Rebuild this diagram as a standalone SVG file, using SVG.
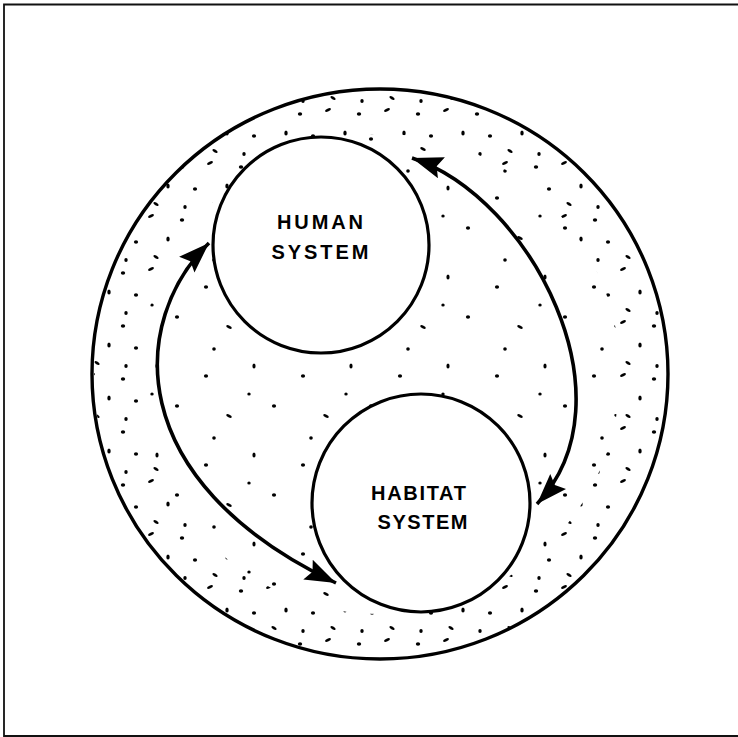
<svg xmlns="http://www.w3.org/2000/svg" width="738" height="737" viewBox="0 0 738 737">
<style>
.ring{fill:none;stroke:#000;stroke-width:3.4}
.node{fill:#fff;stroke:#000;stroke-width:3.2}
.conn{fill:none;stroke:#000;stroke-width:3.6}
.lbl{font-family:"Liberation Sans",Arial,sans-serif;font-weight:bold;font-size:20px;fill:#000;text-anchor:middle}
.d{fill:#000}
</style>
<defs>
<marker id="ah" markerUnits="userSpaceOnUse" markerWidth="40" markerHeight="30" refX="31" refY="11" orient="auto-start-reverse" viewBox="0 0 40 30">
<path d="M31,11 L0,0 L5,11 L0,22 z" fill="#000"/>
</marker>
<pattern id="p1" patternUnits="userSpaceOnUse" width="59" height="53">
<ellipse class="d" cx="5" cy="8" rx="2.2" ry="1.7"/>
<ellipse class="d" cx="33" cy="4" rx="3.2" ry="1.4" transform="rotate(-25 33 4)"/>
<ellipse class="d" cx="50" cy="27" rx="1.7" ry="2.6"/>
<ellipse class="d" cx="18" cy="30" rx="2.1" ry="1.7"/>
<ellipse class="d" cx="38" cy="45" rx="2.9" ry="1.4" transform="rotate(30 38 45)"/>
<ellipse class="d" cx="8" cy="48" rx="1.7" ry="2.1"/>
</pattern>
<pattern id="p3" patternUnits="userSpaceOnUse" width="97" height="89">
<ellipse class="d" cx="12" cy="20" rx="2.1" ry="1.7"/>
<ellipse class="d" cx="60" cy="10" rx="1.6" ry="2.6"/>
<ellipse class="d" cx="80" cy="50" rx="2.1" ry="1.7"/>
<ellipse class="d" cx="35" cy="60" rx="3" ry="1.4" transform="rotate(25 35 60)"/>
<ellipse class="d" cx="20" cy="82" rx="1.8" ry="1.8"/>
<ellipse class="d" cx="55" cy="38" rx="1.7" ry="1.5"/>
</pattern>
</defs>
<rect width="738" height="737" fill="#fff"/>
<path d="M738,4.5 H4 V736 H738" fill="none" stroke="#111" stroke-width="1.8"/>
<g id="environment">
<circle cx="380" cy="374" r="240" fill="url(#p3)"/>
<circle cx="380" cy="374" r="263" fill="none" stroke="url(#p1)" stroke-width="46"/>
<ellipse class="ring" cx="380" cy="374" rx="288" ry="285"/>
</g>
<g id="human-system">
<circle class="node" cx="321" cy="245" r="108"/>
<text class="lbl" x="320" y="229" textLength="86">HUMAN</text>
<text class="lbl" x="320" y="259" textLength="97">SYSTEM</text>
</g>
<g id="habitat-system">
<circle class="node" cx="421" cy="503" r="109"/>
<text class="lbl" x="418.5" y="500" textLength="95">HABITAT</text>
<text class="lbl" x="422.5" y="529" textLength="90">SYSTEM</text>
</g>
<g id="connectors">
<path class="conn" d="M209,243 C130,320 120,480 336,583" marker-start="url(#ah)" marker-end="url(#ah)"/>
<path class="conn" d="M412,158 C532,198 635,400 537,504" marker-start="url(#ah)" marker-end="url(#ah)"/>
</g>
</svg>
